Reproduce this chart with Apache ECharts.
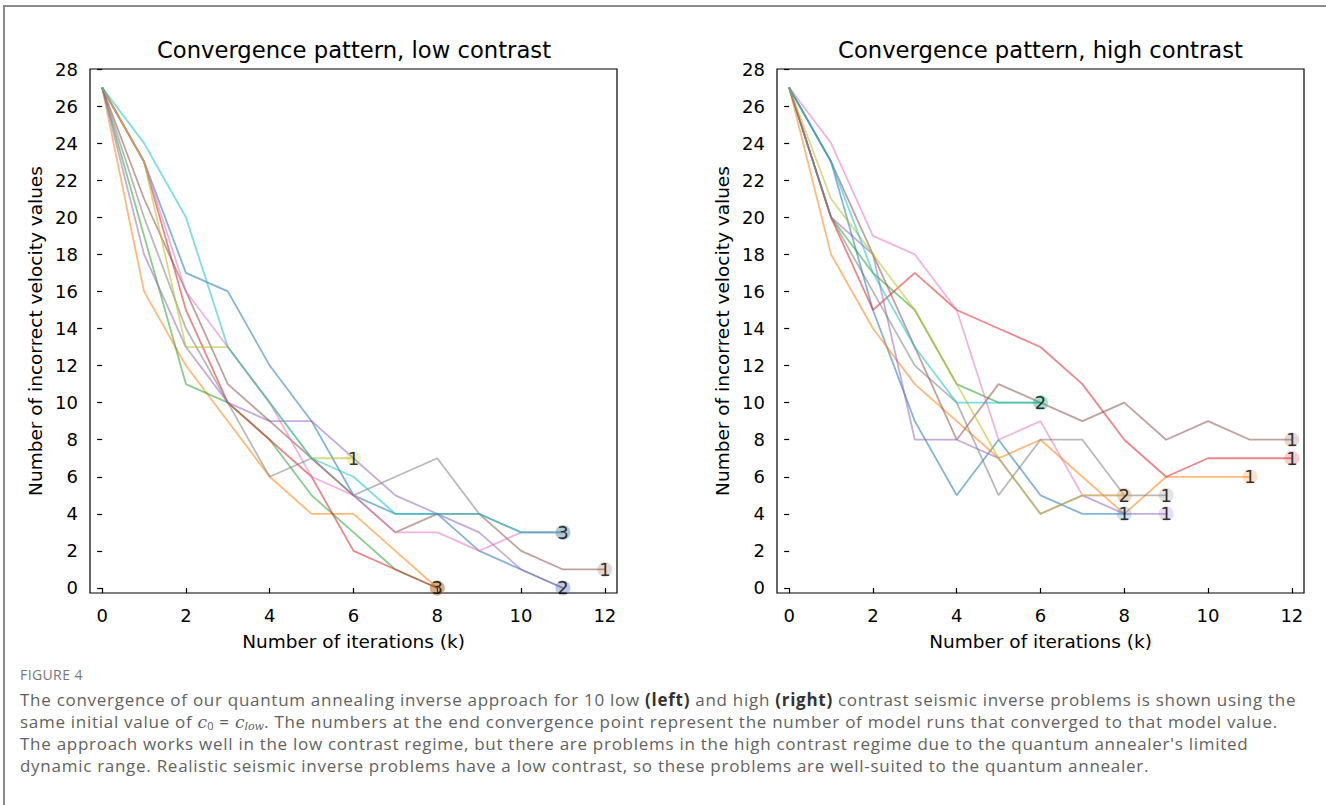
<!DOCTYPE html>
<html>
<head>
<meta charset="utf-8">
<title>Convergence pattern</title>
<script src="https://cdn.jsdelivr.net/npm/echarts@6/dist/echarts.min.js"></script>
<style>
    body { margin: 0; background: #fff; }
    #frame { position: absolute; left: 3px; top: 5px; width: 1400px; height: 900px;
             border-left: 2px solid #8c8c8c; border-top: 2px solid #8c8c8c; }
    #main { position: absolute; left: 0; top: 0; width: 1326px; height: 660px; }
    #caption { position: absolute; left: 20px; top: 664px; font-family: "Open Sans"; color: #626262;
               font-size: 17px; letter-spacing: 0.72px; line-height: 22px; white-space: nowrap; }
    #caption .fig { font-size: 14px; letter-spacing: 0.4px; color: #777; margin-bottom: 3px; }
    #caption b { color: #333; }
    #caption i { font-family: "DejaVu Serif"; letter-spacing: 0; }
    #caption sub { font-size: 65%; line-height: 0; vertical-align: baseline; position: relative; top: 0.2em; }
</style>
</head>
<body>
<div id="frame"></div>
<div id="main"></div>
<div id="caption">
    <div class="fig">FIGURE 4</div>
    The convergence of our quantum annealing inverse approach for 10 low <b>(left)</b> and high <b>(right)</b> contrast seismic inverse problems is shown using the<br>
    same initial value of <i>c</i><sub>0</sub> = <i>c</i><sub><i>low</i></sub>. The numbers at the end convergence point represent the number of model runs that converged to that model value.<br>
    The approach works well in the low contrast regime, but there are problems in the high contrast regime due to the quantum annealer's limited<br>
    dynamic range. Realistic seismic inverse problems have a low contrast, so these problems are well-suited to the quantum annealer.
</div>
<script type="text/javascript">
    // tick labels
    var iterTicks = [0, 2, 4, 6, 8, 10, 12];
    var countTicks = [0, 2, 4, 6, 8, 10, 12, 14, 16, 18, 20, 22, 24, 26, 28];

    // matplotlib tab10 order
    var runColors = ['#1f77b4', '#ff7f0e', '#2ca02c', '#d62728', '#9467bd',
                     '#8c564b', '#e377c2', '#7f7f7f', '#bcbd22', '#17becf'];

    // low contrast: incorrect values at k = 0, 1, 2, ...
    var lowRun1 = [27, 23, 17, 16, 12, 9, 5, 4, 4, 2, 1, 0];
    var lowRun2 = [27, 16, 12, 9, 6, 4, 4, 2, 0];
    var lowRun3 = [27, 19, 11, 10, 8, 5, 3, 1, 0];
    var lowRun4 = [27, 23, 15, 10, 8, 6, 2, 1, 0];
    var lowRun5 = [27, 18, 13, 10, 9, 9, 7, 5, 4, 3, 1, 0];
    var lowRun6 = [27, 21, 16, 11, 9, 7, 5, 3, 4, 4, 2, 1, 1];
    var lowRun7 = [27, 23, 16, 13, 10, 6, 5, 3, 3, 2, 3, 3];
    var lowRun8 = [27, 20, 14, 10, 6, 7, 5, 6, 7, 4, 3, 3];
    var lowRun9 = [27, 23, 13, 13, 10, 7, 7];
    var lowRun10 = [27, 24, 20, 13, 10, 7, 6, 4, 4, 4, 3, 3];

    // high contrast
    var highRun1 = [27, 23, 15, 9, 5, 8, 5, 4, 4];
    var highRun2 = [27, 18, 14, 11, 9, 7, 8, 6, 4, 6, 6, 6];
    var highRun3 = [27, 20, 17, 15, 11, 10, 10];
    var highRun4 = [27, 20, 15, 17, 15, 14, 13, 11, 8, 6, 7, 7, 7];
    var highRun5 = [27, 20, 18, 8, 8, 7, 4, 5, 4, 4];
    var highRun6 = [27, 23, 18, 13, 8, 11, 10, 9, 10, 8, 9, 8, 8];
    var highRun7 = [27, 24, 19, 18, 15, 8, 9, 5, 5];
    var highRun8 = [27, 20, 16, 12, 10, 5, 8, 8, 5, 5];
    var highRun9 = [27, 21, 18, 15, 11, 7, 4, 5, 5];
    var highRun10 = [27, 23, 17, 13, 10, 10, 10];

    // end points [k, value] and how many runs converged there
    var lowEndPoints = [[6, 7], [8, 0], [11, 3], [11, 0], [12, 1]];
    var lowEndCounts = [1, 3, 3, 2, 1];
    var highEndPoints = [[6, 10], [8, 5], [8, 4], [9, 4], [9, 5], [11, 6], [12, 7], [12, 8]];
    var highEndCounts = [2, 2, 1, 1, 1, 1, 1, 1];

    var lowRuns = [lowRun1, lowRun2, lowRun3, lowRun4, lowRun5, lowRun6, lowRun7, lowRun8, lowRun9, lowRun10];
    var highRuns = [highRun1, highRun2, highRun3, highRun4, highRun5, highRun6, highRun7, highRun8, highRun9, highRun10];

    var font = 'DejaVu Sans';

    function runSeries(runs, gi) {
        var out = [];
        runs.forEach(function (run, i) {
            var pts = run.map(function (v, k) { return [k, v]; });
            out.push({
                type: 'line', xAxisIndex: gi, yAxisIndex: gi, data: pts,
                showSymbol: false, silent: true, z: 2,
                lineStyle: {color: runColors[i], width: 1.8, opacity: 0.55}
            });
            out.push({
                type: 'scatter', xAxisIndex: gi, yAxisIndex: gi, data: [pts[pts.length - 1]],
                symbolSize: 15, silent: true, z: 3,
                itemStyle: {color: runColors[i], opacity: 0.22}
            });
        });
        return out;
    }

    function countSeries(points, counts, gi) {
        return {
            type: 'scatter', xAxisIndex: gi, yAxisIndex: gi, silent: true, z: 5,
            data: points.map(function (p, i) { return [p[0], p[1], counts[i]]; }),
            symbolSize: 1,
            itemStyle: {color: 'transparent'},
            label: {
                show: true, position: 'inside', color: '#000', fontSize: 18, fontFamily: font,
                textBorderWidth: 0,
                formatter: function (p) { return p.value[2]; }
            }
        };
    }

    function xAxisOf(gi) {
        return {
            type: 'value', gridIndex: gi, min: -0.29, max: 12.29,
            name: 'Number of iterations (k)', nameLocation: 'middle', nameGap: 39,
            nameTextStyle: {color: '#000', fontSize: 18.5, fontFamily: font},
            axisLine: {show: false},
            splitLine: {show: false},
            axisTick: {customValues: iterTicks, length: 5, lineStyle: {color: '#000', width: 1.2}},
            axisLabel: {customValues: iterTicks, margin: 13, color: '#000', fontSize: 18, fontFamily: font}
        };
    }

    function yAxisOf(gi) {
        return {
            type: 'value', gridIndex: gi, min: -0.27, max: 28,
            name: 'Number of incorrect velocity values', nameLocation: 'middle', nameGap: 45,
            nameTextStyle: {color: '#000', fontSize: 18.5, fontFamily: font},
            axisLine: {show: false},
            splitLine: {show: false},
            axisTick: {customValues: countTicks, length: 5, lineStyle: {color: '#000', width: 1.2}},
            axisLabel: {customValues: countTicks, margin: 12, color: '#000', fontSize: 18, fontFamily: font}
        };
    }

    var myChart = echarts.init(document.getElementById('main'), null, {renderer: 'svg'});

    var option = {
        animation: false,
        title: [
            {text: 'Convergence pattern, low contrast', left: 349, top: 33, textAlign: 'center',
             textStyle: {color: '#000', fontSize: 22.7, fontWeight: 'normal', fontFamily: font}},
            {text: 'Convergence pattern, high contrast', left: 1035.5, top: 33, textAlign: 'center',
             textStyle: {color: '#000', fontSize: 22.7, fontWeight: 'normal', fontFamily: font}}
        ],
        grid: [
            {left: 90, top: 69, width: 527, height: 524, show: true, borderColor: '#000', borderWidth: 1.2},
            {left: 777, top: 69, width: 527, height: 524, show: true, borderColor: '#000', borderWidth: 1.2}
        ],
        xAxis: [xAxisOf(0), xAxisOf(1)],
        yAxis: [yAxisOf(0), yAxisOf(1)],
        series: runSeries(lowRuns, 0)
            .concat(runSeries(highRuns, 1))
            .concat([countSeries(lowEndPoints, lowEndCounts, 0), countSeries(highEndPoints, highEndCounts, 1)])
    };

    myChart.setOption(option);
</script>
</body>
</html>
